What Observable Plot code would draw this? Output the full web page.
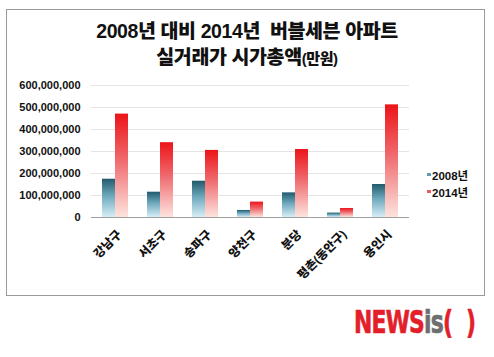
<!DOCTYPE html>
<html><head><meta charset="utf-8">
<script src="https://cdn.jsdelivr.net/npm/d3@7"></script>
<script src="https://cdn.jsdelivr.net/npm/@observablehq/plot@0.6"></script>
<style>
html,body{margin:0;padding:0;background:#fff;}
#wrap{position:relative;width:494px;height:357px;overflow:hidden;font-family:"Liberation Sans","Noto Sans CJK KR",Arial,sans-serif;}
#frame{position:absolute;left:6px;top:9px;width:479px;height:287px;border:1px solid #9a9a9a;box-sizing:border-box;}
.title{position:absolute;left:0;width:494px;text-align:center;font-weight:900;color:#111;font-size:19.5px;letter-spacing:-0.4px;font-family:"Liberation Sans","Noto Sans CJK KR",sans-serif;line-height:22px;}
#chart{position:absolute;left:0;top:0;}
.leg{position:absolute;font-weight:bold;font-size:11.5px;color:#111;font-family:"Liberation Sans","Noto Sans CJK KR",sans-serif;}
.leg i{display:inline-block;width:4px;height:3px;margin-right:1px;vertical-align:4px;}
#logo{position:absolute;left:354px;top:303px;font-family:"Liberation Sans Narrow","DejaVu Sans Condensed",sans-serif;font-weight:bold;font-size:32px;letter-spacing:-1px;transform:scaleX(0.76);transform-origin:left top;white-space:nowrap;-webkit-text-stroke:0.6px currentColor;}
</style></head>
<body>
<svg width="0" height="0" style="position:absolute">
  <defs>
    <linearGradient id="g2008" x1="0" y1="0" x2="0" y2="1">
      <stop offset="0" stop-color="#215a6c"/>
      <stop offset="0.45" stop-color="#6fa9bd"/>
      <stop offset="1" stop-color="#d6eef6"/>
    </linearGradient>
    <linearGradient id="g2014" x1="0" y1="0" x2="0" y2="1">
      <stop offset="0" stop-color="#ec1418"/>
      <stop offset="0.45" stop-color="#ef6a6e"/>
      <stop offset="1" stop-color="#fde4de"/>
    </linearGradient>
  </defs>
</svg>
<div id="wrap">
  <div id="frame"></div>
  <div class="title" style="top:20px;">2008년 대비 2014년&nbsp;&nbsp;버블세븐 아파트</div>
  <div class="title" style="top:46px;">실거래가 시가총액<span style="font-size:15px">(만원)</span></div>
  <div id="chart"></div>
  <div class="leg" style="left:427px;top:167px;"><i style="background:#5f9fb3"></i>2008년</div>
  <div class="leg" style="left:427px;top:184px;"><i style="background:#e8585c"></i>2014년</div>
  <div id="logo"><span style="color:#e3202a">NEWS</span><span style="color:#6d6e70">is</span><span style="color:#e3202a">(&nbsp;&nbsp;)</span></div>
</div>
<script>
const categories = ["강남구","서초구","송파구","양천구","분당","평촌(동안구)","용인시"];
const values2008 = [174000000,115000000,165000000,32000000,112000000,20000000,150000000];
const values2014 = [470000000,340000000,305000000,70000000,309000000,41000000,512000000];
const yTicks = [0,100000000,200000000,300000000,400000000,500000000,600000000];

const d2008 = categories.map((c,i)=>({cat:c, v:values2008[i]}));
const d2014 = categories.map((c,i)=>({cat:c, v:values2014[i]}));
const fmt = d3.format(",");

const chart = Plot.plot({
  width: 494,
  height: 357,
  marginLeft: 91,
  marginRight: 85,
  marginTop: 85,
  marginBottom: 140,
  style: {fontFamily: "'Liberation Sans', 'Noto Sans CJK KR', Arial, sans-serif", fontWeight: "bold", fontSize: "10.5px", color: "#111", background: "transparent"},
  x: {domain: categories, paddingInner: 0.43, paddingOuter: 0.215, label: null, axis: null},
  y: {domain: [0, 600000000], label: null, axis: null},
  marks: [
    Plot.ruleY(yTicks.slice(1), {stroke: "#e4e4e4", strokeWidth: 1}),
    Plot.barY(d2008, {x: "cat", y: "v", fill: "url(#g2008)", insetRight: 13}),
    Plot.barY(d2014, {x: "cat", y: "v", fill: "url(#g2014)", insetLeft: 13}),
    Plot.ruleX([0], {x: () => 0, frameAnchor: "left", stroke: "#a0a0a0"}),
    Plot.ruleY([0], {stroke: "#a0a0a0"}),
    Plot.axisY({ticks: yTicks, tickSize: 0, tickPadding: 11, tickFormat: fmt, label: null, fontWeight: "bold", fontSize: 11}),
    Plot.axisX({tickSize: 0, tickRotate: -45, tickPadding: 15, dx: 4, label: null, fontSize: 12, fontWeight: 900})
  ]
});
document.getElementById("chart").appendChild(chart);
</script>
</body></html>
